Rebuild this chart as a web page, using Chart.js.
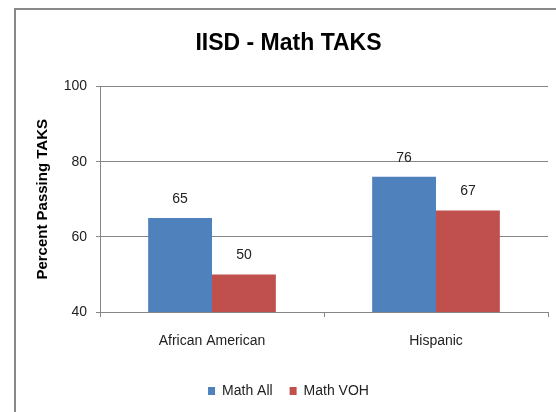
<!DOCTYPE html>
<html>
<head>
<meta charset="utf-8">
<script src="https://cdn.jsdelivr.net/npm/chart.js@4"></script>
<style>
  html, body { margin: 0; padding: 0; background: #fff; overflow: hidden; }
  #frame {
    position: absolute; left: 14px; top: 8px;
    width: 700px; height: 600px;
    border: 2px solid #898989;
  }
  #wrap { position: absolute; left: 0; top: 0; width: 556px; height: 412px; }
</style>
</head>
<body>
<div id="frame"></div>
<div id="wrap"><canvas id="takschart" width="556" height="412"></canvas></div>
<script>
const groups = ['African American', 'Hispanic'];
const mathAll = [65, 76];
const mathVOH = [50, 67];
const yTicks = [40, 60, 80, 100];

const textFont = "'Liberation Sans', Arial, sans-serif";
const gridGray = '#868686';

// writes the value above each bar
const valueLabels = {
    id: 'valueLabels',
    afterDatasetsDraw(chart) {
        const ctx = chart.ctx;
        ctx.save();
        ctx.font = '14px ' + textFont;
        ctx.fillStyle = '#222';
        ctx.textAlign = 'center';
        ctx.textBaseline = 'middle';
        chart.data.datasets.forEach(function (ds, i) {
            chart.getDatasetMeta(i).data.forEach(function (bar, j) {
                ctx.fillText(ds.data[j], bar.x, bar.y - 19);
            });
        });
        ctx.restore();
    }
};

const ctx = document.getElementById('takschart').getContext('2d');
new Chart(ctx, {
    type: 'bar',
    data: {
        labels: groups,
        datasets: [
            { label: 'Math All', data: mathAll, backgroundColor: '#4F81BD' },
            { label: 'Math VOH', data: mathVOH, backgroundColor: '#C0504D' }
        ]
    },
    options: {
        responsive: false,
        animation: false,
        categoryPercentage: 0.57,
        barPercentage: 1.0,
        layout: { padding: { left: 29, right: 8, top: 0, bottom: 4 } },
        plugins: {
            title: {
                display: true,
                text: 'IISD - Math TAKS',
                color: '#000',
                font: { family: textFont, size: 23, weight: 'bold' },
                padding: { top: 30, bottom: 29 }
            },
            legend: {
                position: 'bottom',
                labels: {
                    boxWidth: 7,
                    boxHeight: 8,
                    padding: 17,
                    color: '#222',
                    font: { family: textFont, size: 14 }
                }
            },
            tooltip: { enabled: false }
        },
        scales: {
            x: {
                grid: { drawOnChartArea: false, color: gridGray, tickLength: 5, offset: true },
                border: { color: gridGray },
                ticks: { color: '#222', padding: 16, font: { family: textFont, size: 14 } },
                afterFit: function (scale) { scale.height = 55; }
            },
            y: {
                min: 40,
                max: 100,
                afterBuildTicks: function (scale) {
                    scale.ticks = yTicks.map(function (v) { return { value: v }; });
                },
                grid: { color: gridGray, tickLength: 4 },
                border: { color: gridGray },
                ticks: { color: '#222', padding: 9, font: { family: textFont, size: 14 } },
                title: {
                    display: true,
                    text: 'Percent Passing TAKS',
                    color: '#000',
                    font: { family: textFont, size: 15, weight: 'bold' },
                    padding: { top: 5, bottom: 0 }
                },
                afterFit: function (scale) { scale.width = 71; }
            }
        }
    },
    plugins: [valueLabels]
});
</script>
</body>
</html>
